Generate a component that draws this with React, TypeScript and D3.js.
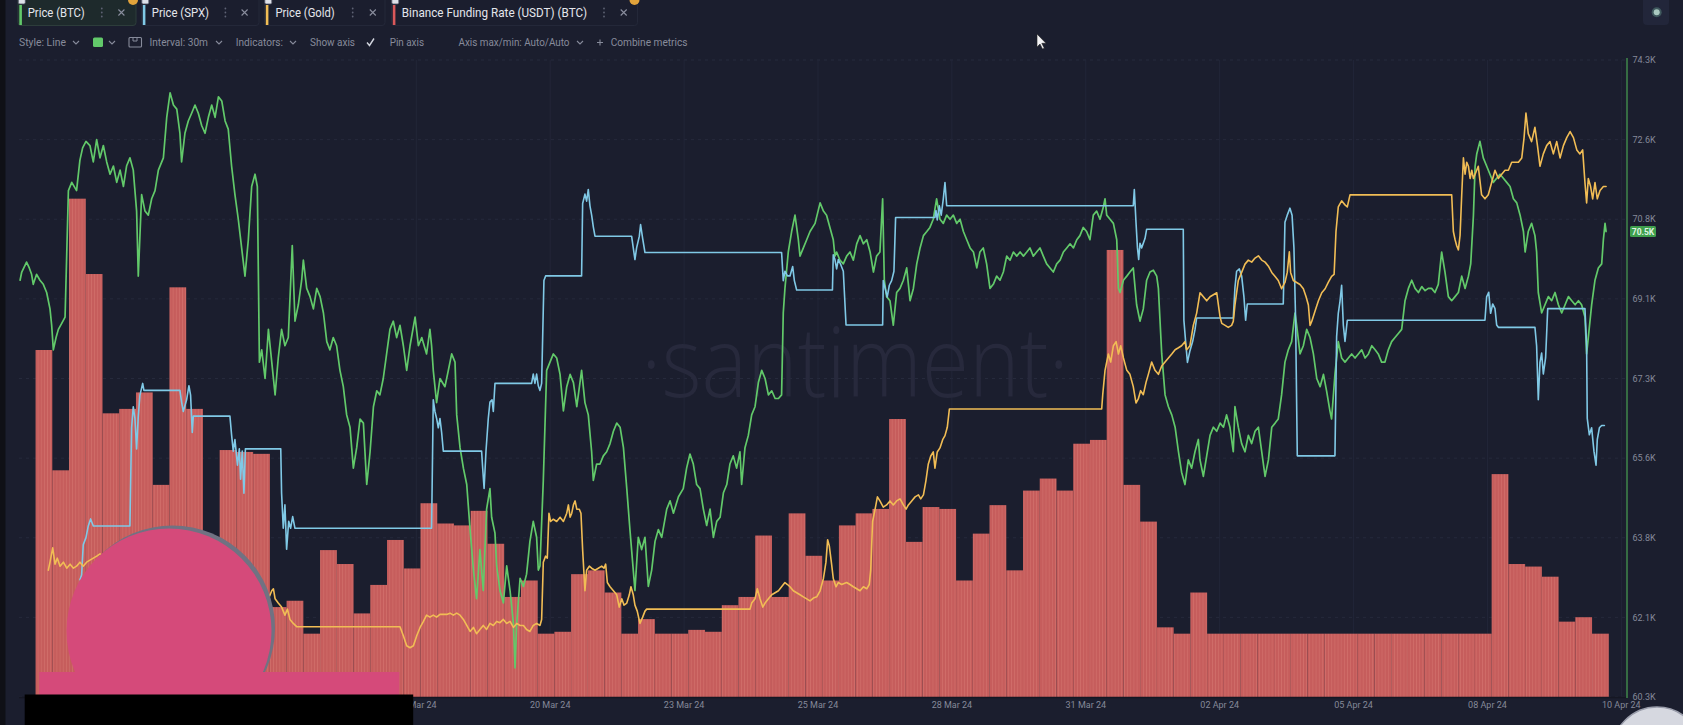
import React from "react";
import * as d3 from "d3";

// ---------- DATA ----------
// time base: hours are counted from 2024-03-09 11:00 UTC
const BASE = Date.UTC(2024, 2, 9, 11, 0);
const HOUR = 3600 * 1000;

// Price (BTC), USD  [hours, price]
const btcSeries: [number, number][] = [
  [9.6,69460],[10.4,69640],[12.7,69860],[14.0,69730],[15.1,69590],[15.9,69370],[17.5,69590],[19.1,69460],[20.7,69370],[22.3,69190],[23.9,68830],[24.7,68470],[25.5,67930],[26.8,68200],[27.9,68380],[29.5,68510],[31.1,68650],[32.7,71430],[34.3,71610],[36.6,71430],[38.2,72100],[39.5,72370],[41.1,72510],[43.0,72420],[44.6,72060],[46.2,72550],[47.8,72150],[49.4,72420],[51.0,72060],[52.6,71790],[54.2,71970],[55.8,71610],[57.4,71880],[59.0,71520],[60.5,71970],[62.1,72150],[63.7,71880],[65.3,70980],[66.1,69550],[67.7,71340],[69.3,70980],[70.9,70890],[72.5,71250],[74.1,71430],[75.7,71880],[78.1,72150],[79.7,73040],[81.3,73580],[82.9,73310],[84.5,73220],[86.0,72690],[86.8,72060],[88.4,72690],[90.0,72960],[91.6,73130],[93.2,73310],[94.8,73130],[96.4,72860],[98.0,72690],[99.6,73040],[101.2,73310],[102.8,73040],[104.4,73490],[106.0,73400],[107.6,72960],[109.1,72780],[110.7,71970],[112.3,71340],[113.9,70800],[115.5,70170],[117.1,69550],[118.7,70350],[120.3,71520],[121.9,71790],[123.0,71520],[124.0,67660],[125.1,67930],[126.7,67300],[128.3,68380],[129.9,67660],[131.5,66940],[133.0,67750],[134.6,68380],[136.2,68020],[137.8,68200],[139.7,70220],[141.0,68560],[142.6,68920],[144.2,69460],[145.0,69900],[146.6,69280],[148.2,69100],[149.8,68830],[151.4,69280],[153.0,69100],[154.6,68740],[156.2,68110],[157.7,67930],[159.3,68200],[160.9,68020],[162.5,67480],[164.1,67120],[165.7,66500],[167.3,66230],[168.9,65330],[170.5,65780],[172.1,66410],[173.7,66320],[175.3,64970],[176.9,65690],[178.5,66680],[180.1,67030],[181.6,66940],[183.2,67300],[184.8,67840],[186.4,68380],[188.0,68560],[189.6,68200],[191.2,68470],
  [192.8,68020],[194.4,67480],[196.0,68020],[198.4,68650],[200.0,68020],[201.6,68200],[203.9,67840],[205.5,68380],[206.3,68020],[207.1,67480],[208.7,66770],[210.3,67300],[212.7,67120],[214.3,67480],[215.9,67840],[217.5,67660],[218.3,66500],[219.9,65780],[221.5,65330],[223.1,64970],[224.7,63980],[226.3,63090],[227.8,62460],[229.4,63540],[231.0,62640],[231.8,63540],[232.6,64430],[234.2,64880],[235.0,64250],[236.6,63900],[237.4,63180],[239.0,62640],[240.6,62370],[242.2,63180],[243.8,62640],[245.4,61920],[246.2,60940],[247.0,61920],[248.6,62910],[250.2,62730],[251.7,63000],[253.3,63720],[254.9,64160],[256.5,63810],[257.3,63090],[258.1,63180],[259.7,65060],[261.3,67480],[262.9,67660],[264.5,67840],[266.1,67750],[267.7,67390],[269.3,66590],[270.9,67120],[272.5,67390],[274.1,67210],[275.7,66680],[278.0,67480],[279.6,66770],[281.2,66500],[282.8,65690],[283.6,65060],[285.2,65420],[286.8,65420],[288.4,65600],[290.0,65690],[291.6,65870],[293.2,66140],[294.8,66320],[296.4,66230],[298.0,65780],[299.6,64880],[301.1,63980],[302.7,63090],[303.5,62640],[305.1,63810],[306.7,63540],[308.3,63810],[309.9,62730],[311.5,63090],[313.1,63720],[314.7,63980],[316.3,63810],[318.7,64430],[320.3,64610],[321.9,64340],[324.3,64700],[326.6,64880],[328.2,65330],[329.8,65640],[331.4,65420],[333.0,64970],[334.6,64880],[336.2,64430],[337.8,64070],[339.4,64430],[341.0,63810],[342.6,64160],[344.2,64250],[345.8,64790],[347.4,64970],[348.9,65420],[350.5,65600],[352.1,65330],[353.7,65690],[354.5,64970],[356.1,65780],[357.7,66050],[359.3,66500],[360.9,66680],[362.5,67210],[364.1,67480],[365.7,67300],[367.3,66940],[368.9,67030],[370.5,66860],[372.1,66860],[373.6,66940],[374.4,68740],[375.2,69280],[376.8,70080],[378.4,70530],[380.0,70890],[381.6,70350],
  [382.4,69990],[384.0,70170],[385.6,70350],[387.2,70530],[389.6,70710],[392.0,71160],[393.6,70980],[395.1,70890],[396.7,70620],[398.3,70350],[399.1,69990],[399.9,70080],[401.5,69900],[403.1,69820],[404.7,69990],[406.3,70080],[407.9,69900],[409.5,70260],[411.1,70440],[412.7,70260],[414.3,70350],[415.9,70080],[417.5,69640],[419.0,69990],[420.6,70080],[421.9,71250],[422.7,69460],[423.8,69100],[425.4,69010],[427.0,68470],[428.6,69190],[430.2,69280],[431.8,69460],[433.4,69730],[435.0,69010],[436.6,69280],[438.2,69820],[439.8,70170],[441.4,70440],[443.0,70530],[444.5,70620],[446.1,70800],[447.7,71250],[449.3,70800],[450.9,70710],[452.5,70890],[454.1,70800],[455.7,70890],[457.3,70710],[458.9,70800],[460.5,70530],[462.1,70350],[463.7,70170],[465.3,70080],[466.9,69730],[468.4,70080],[470.0,70170],[471.6,69820],[473.2,69280],[474.8,69370],[476.4,69550],[478.0,69460],[479.6,69640],[481.2,69990],[482.8,69900],[484.4,70080],[486.0,69990],[487.6,70080],[489.2,69990],[490.8,70080],[492.3,70170],[493.9,69990],[495.5,70080],[497.1,70170],[498.7,69990],[500.3,69820],[501.9,69730],[503.5,69640],[505.1,69820],[506.7,69900],[508.3,70080],[509.9,70170],[511.5,70260],[513.1,70170],[514.7,70350],[516.2,70440],[517.8,70620],[519.4,70530],[521.0,70350],[522.6,70890],[524.2,70980],[525.8,70800],[527.4,71070],[528.2,71250],[529.0,70890],[530.6,70800],[532.2,70710],[533.8,70350],[534.6,69280],[535.4,69190],[537.0,69460],[538.6,69550],[540.1,69640],[541.7,69730],[543.3,68920],[544.9,68560],[546.5,68830],[548.1,69460],[549.7,69640],[551.3,69680],[552.9,69550],[553.7,69280],[555.3,67840],[556.9,66940],[558.5,66680],[560.1,66500],[561.7,66230],[563.3,65690],[564.8,65240],[566.4,64970],[568.0,65510],[569.6,65330],[571.2,65690],[572.8,65960],
  [573.6,65510],[575.2,65150],[576.8,65600],[578.4,66050],[580.0,66230],[581.6,66140],[583.2,66320],[584.8,66230],[586.3,66500],[587.9,66230],[589.5,65690],[590.3,66680],[591.9,66230],[593.5,65870],[595.1,65690],[596.7,66050],[598.3,65870],[599.9,66140],[601.5,66230],[603.1,65690],[604.7,65150],[606.3,65510],[607.9,66230],[609.5,66320],[611.0,66410],[612.6,66940],[614.2,67660],[615.8,67930],[617.4,68110],[619.0,68740],[619.8,68470],[621.4,67840],[623.0,68020],[624.6,68380],[626.2,68200],[627.8,67840],[629.4,67300],[631.0,67120],[632.6,67390],[634.1,67030],[635.7,66590],[636.5,66410],[638.1,67390],[639.7,68110],[641.3,67750],[642.9,67660],[644.5,67750],[646.1,67840],[647.7,67750],[649.3,67840],[650.9,67930],[652.5,67750],[654.1,67840],[655.7,68020],[657.3,67930],[658.8,67840],[660.4,67660],[662.0,67660],[663.6,67930],[665.2,68110],[666.8,68200],[668.4,68290],[670.0,68380],[671.6,69010],[673.2,69280],[674.8,69460],[676.4,69280],[678.0,69190],[679.6,69320],[681.2,69230],[682.7,69280],[684.3,69280],[685.9,69190],[687.5,69370],[689.1,70080],[690.7,69640],[692.3,69100],[693.9,69010],[695.5,69100],[697.1,69190],[698.7,69550],[700.3,69280],[701.9,69550],[703.0,69820],[704.3,70890],[705.1,71970],[705.9,72240],[707.4,72510],[709.0,72150],[710.6,71970],[712.2,71790],[713.8,71610],[715.4,71700],[717.0,71790],[718.6,71700],[720.2,71610],[721.8,71520],[723.4,71250],[725.0,71160],[726.6,70890],[728.2,70530],[729.0,70080],[730.5,70530],[732.1,70710],[733.7,70440],[734.5,70080],[735.3,69190],[736.9,68740],[738.5,68920],[740.1,69100],[741.7,69010],[743.3,69190],[744.9,68920],[746.5,68740],[748.1,68920],[749.7,69100],[751.3,69010],[752.9,68920],[754.5,69010],[756.0,68920],[757.6,68650],[758.4,67840],[759.2,68200],[760.8,68920],[762.4,69460],[764.0,69730],[765.6,69820],[766.4,70350],[767.2,70710],[767.7,70530],
];

// Price (SPX)  [hours, index level]
const spxSeries: [number, number][] = [
  [38.2,5095],[39.0,5097],[39.8,5110],[41.1,5113],[42.2,5118],[43.3,5121],[44.6,5118],[62.1,5118],[62.9,5160],[63.7,5169],[64.5,5164],[65.3,5151],[66.1,5165],[66.9,5174],[68.2,5179],[68.8,5176],[86.0,5176],[86.8,5171],[87.6,5167],[89.2,5172],[90.3,5178],[91.1,5174],[91.9,5158],[92.4,5165],[109.9,5165],[110.7,5157],[111.5,5150],[112.3,5155],[113.5,5144],[114.4,5151],[115.0,5138],[115.8,5150],[116.6,5132],[117.3,5151],[134.2,5151],[134.6,5132],[135.4,5117],[136.2,5127],[137.0,5108],[138.0,5120],[138.9,5117],[139.9,5122],[141.0,5117],
  [206.3,5117],[207.1,5172],[207.9,5167],[208.7,5164],[209.5,5160],[210.3,5164],[211.1,5158],[211.9,5150],[230.2,5150],[230.7,5143],[231.4,5134],[232.3,5150],[233.4,5164],[234.2,5171],[235.2,5172],[235.8,5167],[236.6,5179],[254.1,5179],[254.9,5183],[255.7,5179],[256.5,5183],[257.3,5178],[258.1,5176],[258.9,5179],[260.0,5223],[260.8,5225],[278.0,5225],[278.5,5256],[279.6,5260],[280.4,5257],[281.2,5262],[282.0,5255],[282.8,5251],[283.6,5246],[284.4,5242],[301.9,5242],[302.7,5237],[303.5,5232],[304.3,5237],[305.6,5242],[306.2,5247],[307.2,5241],[308.3,5235],[373.6,5235],[374.4,5223],[375.2,5227],[376.4,5225],[377.6,5225],[378.9,5229],[379.7,5223],[380.8,5219],
  [397.9,5219],[398.3,5234],[399.1,5232],[399.9,5228],[400.7,5232],[401.8,5230],[403.1,5227],[404.4,5204],[421.9,5204],[422.2,5223],[423.0,5220],[424.1,5216],[425.1,5221],[426.2,5223],[427.3,5227],[428.1,5250],[446.9,5250],[447.4,5253],[448.0,5249],[449.0,5255],[449.9,5251],[450.9,5258],[451.7,5265],[452.5,5255],[541.7,5255],[542.2,5262],[543.0,5248],[543.7,5237],[544.3,5232],[544.9,5239],[545.7,5237],[547.3,5241],[548.1,5245],[565.6,5245],[565.9,5206],[566.9,5195],[567.6,5188],[568.8,5193],[570.1,5197],[571.2,5202],[572.0,5207],
  [589.5,5207],[590.3,5220],[591.1,5227],[592.4,5228],[593.5,5225],[594.6,5216],[595.4,5206],[596.2,5213],[597.2,5213],[613.4,5213],[614.2,5248],[615.3,5251],[616.6,5254],[617.6,5251],[618.5,5237],[619.3,5206],[620.1,5148],[638.1,5148],[638.9,5199],[639.7,5209],[640.5,5214],[641.3,5221],[642.1,5204],[642.9,5197],[644.0,5206],[709.8,5206],[710.6,5216],[711.6,5218],[712.5,5209],[713.5,5213],[714.6,5211],[715.4,5204],[716.2,5203],[733.7,5203],[734.5,5195],[735.3,5172],[736.1,5188],[736.9,5192],[737.7,5183],[738.8,5190],[739.8,5211],[757.6,5211],[758.4,5195],[758.7,5164],[759.7,5157],[760.8,5160],[761.9,5150],[762.9,5144],[763.5,5155],[764.5,5160],[765.6,5161],[766.9,5161],
];

// Price (Gold), USD/oz  [hours, price]
const goldSeries: [number, number][] = [
  [23.1,2180.5],[23.9,2183.7],[25.2,2189.4],[26.3,2182.9],[27.4,2185.3],[28.7,2182.1],[30.3,2183.7],[31.9,2181.3],[33.5,2182.9],[35.1,2181.3],[36.6,2182.1],[38.2,2183.7],[39.8,2182.1],[41.4,2183.7],[43.0,2184.5],[44.6,2185.3],[46.2,2186.1],[47.8,2187.0],[63.7,2175.6],[87.6,2178.8],[111.5,2172.3],[126.7,2170.7],[128.3,2169.1],[129.9,2172.3],[130.7,2173.1],[131.5,2169.1],[133.0,2167.4],[134.6,2165.8],[136.2,2162.6],[137.4,2165.0],[138.6,2160.9],[140.2,2159.3],[141.8,2158.0],[191.2,2158.0],
  [192.8,2154.4],[194.4,2150.4],[196.0,2149.6],[197.6,2150.4],[199.2,2154.4],[200.8,2157.7],[202.4,2160.1],[203.9,2162.6],[205.5,2161.8],[207.1,2162.6],[208.7,2161.8],[210.3,2162.9],[213.5,2162.9],[215.1,2163.4],[216.7,2162.6],[218.3,2163.4],[219.9,2162.6],[221.5,2160.9],[223.1,2158.5],[224.7,2156.1],[226.3,2157.7],[227.8,2155.2],[229.4,2156.9],[231.0,2158.5],[232.6,2156.9],[234.2,2159.3],[235.8,2158.5],[237.4,2160.1],[239.0,2159.6],[240.6,2160.9],[242.2,2159.3],[243.8,2160.1],[245.4,2157.7],[247.0,2159.3],[248.6,2158.5],[250.2,2158.5],[251.7,2156.9],[253.3,2156.1],[254.9,2158.5],[256.5,2159.3],[258.1,2158.5],[258.9,2160.9],[259.7,2183.7],[260.8,2186.1],[261.6,2185.3],[262.4,2203.2],[263.2,2199.9],[264.5,2200.8],[266.1,2199.9],[267.7,2201.6],[269.3,2199.9],[270.9,2203.2],[271.7,2206.5],[272.5,2201.6],[273.3,2203.2],[274.1,2206.5],[274.9,2208.1],[275.7,2204.8],[276.9,2204.8],[277.7,2203.2],[278.5,2188.6],[279.6,2172.3],[280.4,2180.5],[281.7,2182.1],[282.8,2181.3],[284.4,2180.5],[286.0,2181.3],[287.6,2182.1],[288.7,2181.3],[289.5,2182.9],[290.3,2175.6],[291.6,2173.9],[293.2,2172.3],[294.8,2170.7],[296.0,2165.8],[297.2,2169.1],[298.3,2166.6],[299.6,2167.4],[300.8,2170.7],[301.6,2173.9],[302.7,2170.7],[303.5,2166.6],[304.6,2164.2],[305.9,2159.3],[307.2,2161.8],[308.3,2164.2],[309.1,2165.0],[358.5,2165.0],[359.3,2167.4],[360.9,2169.1],[362.0,2173.1],[363.3,2169.1],[364.6,2165.8],[365.7,2167.4],[367.3,2169.1],[368.9,2170.7],[370.5,2171.5],[372.1,2172.3],[373.6,2173.9],[375.2,2175.6],[376.4,2174.8],[377.6,2173.9],[379.2,2172.3],[380.8,2171.5],
  [382.4,2170.7],[384.0,2169.9],[385.6,2169.1],[387.2,2168.3],[388.8,2169.4],[390.4,2169.9],[392.0,2172.3],[393.6,2177.2],[394.8,2183.7],[395.6,2192.6],[396.4,2190.2],[397.5,2182.9],[398.3,2177.2],[399.6,2173.9],[400.7,2175.6],[402.3,2174.8],[404.7,2175.6],[406.3,2174.8],[407.9,2173.9],[409.5,2173.1],[411.1,2172.3],[412.7,2173.9],[414.3,2173.1],[415.5,2174.8],[416.2,2180.5],[417.1,2199.9],[418.3,2204.8],[419.4,2209.7],[420.6,2208.1],[422.2,2205.6],[423.8,2206.5],[425.4,2208.1],[427.0,2206.5],[428.6,2208.1],[430.2,2208.9],[431.8,2206.5],[433.1,2204.8],[434.2,2206.5],[435.8,2208.1],[437.4,2209.7],[439.0,2210.5],[440.1,2208.9],[441.4,2210.5],[442.6,2216.2],[443.7,2222.7],[444.9,2226.0],[446.1,2227.6],[446.9,2221.1],[448.0,2227.6],[449.3,2229.2],[450.6,2232.5],[451.7,2234.1],[452.8,2237.4],[453.8,2244.7],[526.6,2244.7],[527.1,2250.4],[528.2,2260.1],[529.8,2266.6],[530.9,2263.4],[532.2,2269.9],[533.5,2271.5],[534.6,2266.6],[535.7,2269.9],[537.0,2265.0],[538.6,2260.1],[540.1,2258.5],[541.7,2253.6],[543.0,2247.1],[544.1,2248.7],[545.2,2252.0],[546.5,2250.4],[547.8,2255.3],[548.9,2258.5],[550.5,2263.4],[552.1,2260.1],[553.7,2258.5],[555.3,2261.8],[556.9,2263.4],[558.5,2265.0],[560.1,2266.6],[561.7,2268.3],[563.3,2269.1],[564.8,2269.9],[566.4,2271.5],[567.2,2268.3],[568.8,2269.9],[570.4,2278.0],[572.0,2282.9],
  [573.6,2291.0],[575.2,2289.4],[576.8,2287.8],[578.4,2289.4],[580.0,2290.2],[581.6,2291.0],[582.4,2286.1],[583.2,2281.3],[584.0,2278.8],[585.6,2278.0],[587.1,2277.2],[588.7,2278.0],[589.5,2279.6],[590.3,2286.1],[591.9,2295.9],[593.5,2299.1],[595.1,2302.4],[596.7,2304.0],[598.3,2303.2],[599.9,2304.8],[601.5,2305.7],[603.1,2304.0],[604.7,2303.2],[606.3,2301.6],[607.9,2299.1],[609.5,2297.5],[611.0,2295.9],[612.6,2292.6],[614.2,2295.1],[615.3,2299.1],[616.3,2307.3],[616.9,2299.1],[618.2,2295.9],[619.8,2295.1],[621.4,2294.3],[623.0,2292.6],[624.3,2289.4],[625.4,2286.1],[626.2,2278.0],[627.0,2279.6],[628.6,2283.7],[630.2,2287.8],[631.8,2291.0],[633.4,2292.6],[634.9,2295.1],[636.5,2297.5],[637.7,2298.3],[638.6,2315.4],[639.7,2325.2],[641.3,2327.6],[642.9,2326.0],[644.0,2325.2],[645.3,2330.0],[693.9,2330.0],[694.7,2315.4],[695.5,2312.2],[696.3,2309.7],[697.1,2308.1],[697.9,2313.8],[698.7,2330.0],[699.5,2344.7],[700.3,2338.2],[701.1,2343.0],[701.9,2341.4],[702.7,2336.5],[703.5,2339.8],[704.3,2336.5],[705.1,2338.2],[706.6,2341.4],[708.2,2330.0],[709.8,2328.4],[711.4,2330.0],[713.0,2334.9],[714.6,2339.8],[716.2,2336.5],[717.8,2338.2],[719.4,2339.8],[721.0,2339.8],[722.6,2343.0],[724.2,2343.0],[725.8,2343.0],[727.4,2344.7],[728.5,2352.8],[729.4,2362.6],[730.5,2354.4],[732.1,2351.2],[733.7,2356.9],[734.9,2349.6],[736.1,2341.4],[737.7,2346.3],[739.3,2349.6],[740.9,2351.2],[742.5,2346.3],[744.1,2351.2],[745.7,2344.7],[747.3,2349.6],[748.9,2352.8],[750.5,2355.2],[752.1,2352.8],[753.7,2347.9],[755.2,2346.3],[756.5,2347.9],[757.6,2334.9],[758.4,2326.8],[759.2,2336.5],[760.3,2333.3],[761.3,2328.4],[762.4,2334.9],[763.5,2328.4],[764.8,2331.7],[766.4,2333.3],[767.7,2333.3],
];

// Binance Funding Rate (USDT) (BTC), % per 8h period, periods from 2024-03-10 08:00 UTC
const FUNDING_START = Date.UTC(2024, 2, 10, 8, 0);
const fundingRate: number[] = [
  0.0548,0.0358,0.0787,0.0668,0.0448,0.0455,0.0481,0.0335,0.0647,0.0455,
  0.0200,0.0390,0.0387,0.0384,0.0142,0.0152,0.0100,0.0232,0.0210,0.0132,
  0.0177,0.0248,0.0203,0.0306,0.0274,0.0271,0.0294,0.0242,0.0158,0.0184,
  0.0100,0.0103,0.0194,0.0200,0.0165,0.0100,0.0123,0.0100,0.0100,0.0106,
  0.0103,0.0145,0.0158,0.0255,0.0158,0.0290,0.0223,0.0184,0.0271,0.0290,
  0.0297,0.0439,0.0245,0.0300,0.0297,0.0184,0.0258,0.0303,0.0200,0.0326,
  0.0345,0.0326,0.0400,0.0406,0.0706,0.0335,0.0277,0.0110,0.0100,0.0165,
  0.0100,0.0100,0.0100,0.0100,0.0100,0.0100,0.0100,0.0100,0.0100,0.0100,
  0.0100,0.0100,0.0100,0.0100,0.0100,0.0100,0.0100,
  0.0352,0.0210,0.0206,0.0190,0.0119,0.0126,0.0100,
];

const btcTickValues = [60300, 62050, 63800, 65550, 67300, 69050, 70800, 72550, 74300];
const btcTickLabels = ["60.3K", "62.1K", "63.8K", "65.6K", "67.3K", "69.1K", "70.8K", "72.6K", "74.3K"];

const xTickDates = [
  "2024-03-17T18:00Z", "2024-03-20T10:00Z", "2024-03-23T02:00Z", "2024-03-25T18:00Z", "2024-03-28T10:00Z",
  "2024-03-31T02:00Z", "2024-04-02T18:00Z", "2024-04-05T10:00Z", "2024-04-08T02:00Z", "2024-04-10T18:00Z",
];
const xTickLabels = ["17 Mar 24", "20 Mar 24", "23 Mar 24", "25 Mar 24", "28 Mar 24", "31 Mar 24", "02 Apr 24", "05 Apr 24", "08 Apr 24", "10 Apr 24"];

const tabLabels = ["Price (BTC)", "Price (SPX)", "Price (Gold)", "Binance Funding Rate (USDT) (BTC)"];
const lastBtcLabel = "70.5K";

// ---------- STYLE / LAYOUT ----------
const W = 1683, H = 725;
const BG = "#1b1e2e";
const C_BTC = "#62c96a";
const C_SPX = "#80c9e6";
const C_GOLD = "#f1bd55";
const C_FUND = "#c65d5c";
const GRID = "#262a3c";
const AXIS_TXT = "#858999";
const PLOT = { left: 19, right: 1627, top: 60, bottom: 697 };

const tabLayout = [
  { x0: 18, x1: 136, tx: 27.7, tw: 57, dx: 101.8, cx: 121.4, color: C_BTC, active: true, badge: true },
  { x0: 141.5, x1: 259, tx: 151.8, tw: 57.2, dx: 225.4, cx: 244.6, color: C_SPX, active: false, badge: false },
  { x0: 264.5, x1: 385, tx: 275.4, tw: 59.4, dx: 352.7, cx: 372.8, color: C_GOLD, active: false, badge: false },
  { x0: 391.5, x1: 637.5, tx: 401.8, tw: 185.2, dx: 604, cx: 623.7, color: "#d9585a", active: false, badge: true },
];

const toolbarTexts = [
  { t: "Style: Line", x: 19, w: 47 },
  { t: "Interval: 30m", x: 149.5, w: 58.5 },
  { t: "Indicators:", x: 235.7, w: 47.3 },
  { t: "Show axis", x: 310, w: 45 },
  { t: "Pin axis", x: 389.7, w: 34.3 },
  { t: "Axis max/min: Auto/Auto", x: 458.5, w: 111 },
  { t: "Combine metrics", x: 610.7, w: 76.8 },
];
const chevronXs = [76, 112, 219, 293, 580];

export default function App() {
  const x = d3
    .scaleTime()
    .domain([new Date(Date.UTC(2024, 2, 9, 20, 5)), new Date(Date.UTC(2024, 3, 10, 20, 42))])
    .range([PLOT.left, PLOT.right]);
  const t = (h: number) => new Date(BASE + h * HOUR);
  const yBtc = d3.scaleLinear().domain([60300, 74300]).range([PLOT.bottom, PLOT.top]);
  const ySpx = d3.scaleLinear().domain([5044.8, 5317.4]).range([PLOT.bottom, PLOT.top]);
  const yGold = d3.scaleLinear().domain([2130.0, 2383.7]).range([PLOT.bottom, PLOT.top]);
  const yFund = d3.scaleLinear().domain([0, 0.1006]).range([PLOT.bottom, PLOT.top]);

  const mk = (ys: d3.ScaleLinear<number, number>) =>
    d3
      .line<[number, number]>()
      .x((d) => x(t(d[0])))
      .y((d) => ys(d[1]));

  const btcPath = mk(yBtc)(btcSeries) || "";
  const spxPath = mk(ySpx)(spxSeries) || "";
  const goldPath = mk(yGold)(goldSeries) || "";

  const bars = fundingRate.map((v, i) => {
    const c = FUNDING_START + i * 8 * HOUR;
    const x0 = x(new Date(c - 4 * HOUR));
    const x1 = x(new Date(c + 4 * HOUR));
    return { x0, x1, y: yFund(v) };
  });

  const lastBtc = btcSeries[btcSeries.length - 1][1];
  const font = "Roboto, 'Open Sans', Arial, sans-serif";

  return (
    <div style={{ width: W, height: H, background: BG }}>
      <style>{`html,body{margin:0;padding:0;background:${BG};overflow:hidden;}`}</style>
      <svg width={W} height={H} style={{ display: "block" }} fontFamily={font}>
        <defs>
          <pattern id="stripes" patternUnits="userSpaceOnUse" width={3.14} height={10}>
            <rect width={3.14} height={10} fill={C_FUND} />
            <rect x={0} width={0.8} height={10} fill="#d06d69" />
          </pattern>
          <clipPath id="plotclip">
            <rect x={PLOT.left} y={PLOT.top - 5} width={PLOT.right - PLOT.left} height={PLOT.bottom - PLOT.top + 5} />
          </clipPath>
        </defs>
        <rect width={W} height={H} fill={BG} />
        <rect x={0} y={0} width={5.5} height={H} fill="#0f1016" />

        {/* grid */}
        <g>
          {btcTickValues.map((v, i) => (
            <line key={"hg" + i} x1={PLOT.left} x2={PLOT.right} y1={yBtc(v)} y2={yBtc(v)} stroke={GRID} strokeWidth={1} strokeDasharray="3,4" />
          ))}
          {xTickDates.map((d, i) => (
            <line key={"vg" + i} x1={x(new Date(d))} x2={x(new Date(d))} y1={PLOT.top} y2={PLOT.bottom} stroke="#222638" strokeWidth={1} />
          ))}
        </g>

        {/* watermark */}
        <text x={855} y={397} textAnchor="middle" fontSize={98} fontWeight={300} fill="#27293c" fontFamily="'Open Sans', Lato, sans-serif" textLength={428} lengthAdjust="spacingAndGlyphs">
          ·santiment·
        </text>

        {/* funding bars */}
        <g clipPath="url(#plotclip)">
          {bars.map((b, i) => (
            <rect key={"b" + i} x={b.x0} y={b.y} width={b.x1 - b.x0} height={PLOT.bottom - b.y} fill="url(#stripes)" />
          ))}
        </g>
        <line x1={PLOT.left} x2={PLOT.right} y1={PLOT.bottom + 0.5} y2={PLOT.bottom + 0.5} stroke="#151723" strokeWidth={1.5} />

        {/* lines */}
        <g clipPath="url(#plotclip)" fill="none" strokeLinejoin="round" strokeLinecap="round">
          <path d={btcPath} stroke={C_BTC} strokeWidth={1.7} />
          <path d={spxPath} stroke={C_SPX} strokeWidth={1.6} />
          <path d={goldPath} stroke={C_GOLD} strokeWidth={1.6} />
        </g>

        {/* right axis */}
        <line x1={PLOT.right} x2={PLOT.right} y1={PLOT.top - 2} y2={PLOT.bottom + 1} stroke="#3e8049" strokeWidth={1.6} />
        {btcTickValues.map((v, i) => (
          <text key={"yt" + i} x={PLOT.right + 5.5} y={yBtc(v) + 3.2} fontSize={9} fill={AXIS_TXT}>
            {btcTickLabels[i]}
          </text>
        ))}
        <rect x={PLOT.right + 3} y={yBtc(lastBtc) - 5.5} width={26} height={11} rx={1.5} fill="#3f9f4d" />
        <text x={PLOT.right + 16} y={yBtc(lastBtc) + 3.2} fontSize={8.5} fontWeight={700} fill="#dff3e2" textAnchor="middle">
          {lastBtcLabel}
        </text>

        {/* x axis labels */}
        {xTickDates.map((d, i) => (
          <text key={"xt" + i} x={x(new Date(d))} y={707.5} fontSize={9} fill={AXIS_TXT} textAnchor="middle">
            {xTickLabels[i]}
          </text>
        ))}

        {/* tabs */}
        {tabLayout.map((L, i) => (
          <g key={"tab" + i}>
            <rect x={L.x0} y={-3} width={L.x1 - L.x0} height={28.5} rx={3} fill={L.active ? "#1e2a2c" : BG} stroke={L.active ? "#2d3d3b" : "#242839"} strokeWidth={1} />
            <rect x={L.x0 + 1.3} y={5} width={2.6} height={20} fill={L.color} />
            <rect x={L.x0 + 0.3} y={-3} width={7} height={7} rx={1.5} fill="#dde0e8" stroke="#4b4e60" strokeWidth={0.8} />
            <text x={L.tx} y={17} fontSize={12} fill="#e4e6ec" textLength={L.tw} lengthAdjust="spacingAndGlyphs">
              {tabLabels[i]}
            </text>
            {[8.5, 12.5, 16.5].map((yy, j) => (
              <circle key={j} cx={L.dx} cy={yy} r={0.9} fill="#5e6274" />
            ))}
            <path d={`M${L.cx - 3},${9.5} L${L.cx + 3},${15.5} M${L.cx + 3},${9.5} L${L.cx - 3},${15.5}`} stroke="#8a8e9e" strokeWidth={1.1} />
            {L.badge && <circle cx={L.x1 - 3} cy={0} r={5} fill="#e2a33b" />}
          </g>
        ))}

        {/* toolbar */}
        {toolbarTexts.map((o, i) => (
          <text key={"tb" + i} x={o.x} y={46} fontSize={11} fill="#878b9b" textLength={o.w} lengthAdjust="spacingAndGlyphs">
            {o.t}
          </text>
        ))}
        {chevronXs.map((cx, i) => (
          <path key={"ch" + i} d={`M${cx - 3},${41} L${cx},${44} L${cx + 3},${41}`} stroke="#878b9b" strokeWidth={1.1} fill="none" />
        ))}
        <rect x={93} y={37.5} width={10} height={9.5} rx={1.5} fill={C_BTC} />
        <rect x={129} y={37.5} width={12.5} height={9.5} rx={1} fill="none" stroke="#878b9b" strokeWidth={1.1} />
        <path d="M133,37.5 L133,41 L137,41 L137,37.5" fill="none" stroke="#878b9b" strokeWidth={1} />
        <path d="M367,42.5 L369.5,45.5 L374,38.5" fill="none" stroke="#d2d5de" strokeWidth={1.4} />
        <path d="M597,42.5 L603,42.5 M600,39.5 L600,45.5" stroke="#878b9b" strokeWidth={1.1} />

        {/* cursor */}
        <path d="M1037,34 L1037,47 L1040,44 L1042.5,49 L1044.3,48.2 L1041.8,43.3 L1046,43.3 Z" fill="#f4f4f6" stroke="#222" strokeWidth={0.6} />

        {/* eye button top right */}
        <rect x={1643} y={-4} width={26} height={29} rx={4} fill="#22263a" />
        <circle cx={1656.7} cy={12.3} r={5} fill="#5c8a80" opacity={0.5} />
        <circle cx={1656.7} cy={12.3} r={3} fill="#a9c9c0" />

        {/* overlays present in screenshot */}
        <circle cx={172.5} cy={628} r={102.5} fill="#707282" />
        <circle cx={169} cy={631} r={102.5} fill="#d54a7a" />
        <rect x={39.3} y={672} width={360} height={23} fill="#d54a7a" />
        <rect x={24.7} y={694.5} width={388.5} height={31} fill="#000000" />
        <circle cx={1657} cy={752} r={45} fill="#d6d8e0" stroke="#9a9dab" strokeWidth={1.5} />
      </svg>
    </div>
  );
}
